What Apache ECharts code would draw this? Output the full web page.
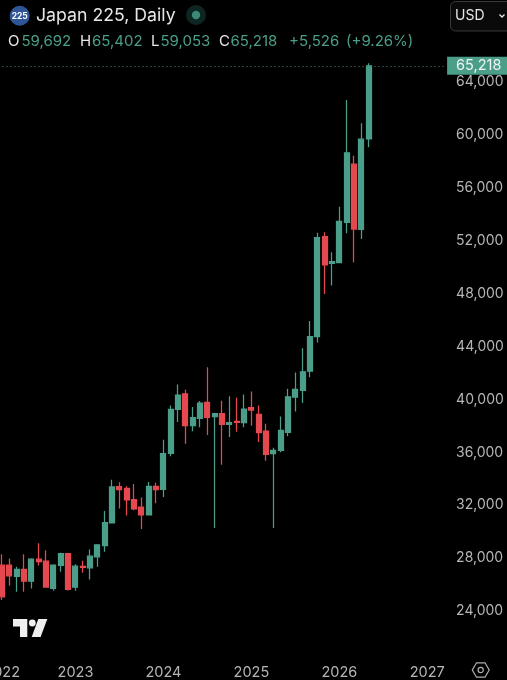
<!DOCTYPE html>
<html><head><meta charset="utf-8">
<style>html,body{margin:0;padding:0;background:#000}#c{width:507px;height:680px}</style>
<script src="https://cdn.jsdelivr.net/npm/echarts@6/dist/echarts.min.js"></script>
</head><body><div id="c"></div>
<script>
const categories = ["2022","2022-04","2022-05","2022-06","2022-07","2022-08","2022-09","2022-10","2022-11","2022-12",
"2023","2023-02","2023-03","2023-04","2023-05","2023-06","2023-07","2023-08","2023-09","2023-10","2023-11","2023-12",
"2024","2024-02","2024-03","2024-04","2024-05","2024-06","2024-07","2024-08","2024-09","2024-10","2024-11","2024-12",
"2025","2025-02","2025-03","2025-04","2025-05","2025-06","2025-07","2025-08","2025-09","2025-10","2025-11","2025-12",
"2026","2026-02","2026-03","2026-04","2026-05","2026-06","2026-07","2026-08","2026-09","2026-10","2026-11","2026-12",
"2027","2027-02","2027-03"];
const opens = [27471,27471,26616,27144,26264,27924,27773,25710,27446,28352,
25811,27371,27270,28100,28955,30666,33408,33282,32427,31849,31270,33433,
33207,35925,39245,40428,38012,38566,39773,38692,38918,38113,38340,38239,
39371,38868,37610,35899,36151,37509,40176,40679,42138,44754,52300,50288,
50338,53382,57785,52854,59692];
const closes = [25081,26666,27144,26264,27924,27748,25811,27471,28352,25635,
27396,27295,28150,29006,30691,33383,33182,32402,31723,31270,33433,33182,
35899,39245,40327,38012,38616,39723,38641,38918,38113,38239,38264,39270,
39195,37484,35849,36151,37660,40201,40755,42088,44754,52226,50162,50414,
53458,58640,52879,59672,65218];
const lows = [24830,25911,25459,25459,25710,27446,25760,25534,26968,25559,
25534,26893,26389,27345,28478,30666,31748,31220,31622,30213,31270,32150,
32629,35698,38289,36654,37585,37887,37308,30289,35069,37157,37560,37887,
38012,36780,35371,30289,36000,37207,39094,39723,41685,44302,47974,48603,
50338,52552,50364,52125,59053];
const highs = [28301,27974,27345,28301,27999,29132,28603,27547,28402,28377,
27547,27798,28654,29006,31572,33937,33735,33433,33610,32578,33760,33710,
36956,39547,41132,40729,39421,39874,42440,38994,39899,40231,40125,40375,
40605,39547,38163,36352,38717,40805,42038,43874,45937,52603,52628,51118,
54565,62640,58414,60879,65402];
const lastClose = 65218;
const titleText = "Japan 225, Daily";
const legendLabels = ["O","H","L","C"];
const legendValues = ["59,692","65,402","59,053","65,218","+5,526","(+9.26%)"];

const UP = "#4a9e8a", DOWN = "#e5484f", TXT = "#e6e6e6", AXIS = "#b6b6b6";
const FONT = "Inter, 'Noto Sans', sans-serif";
const candles = opens.map((o, i) => [o, closes[i], lows[i], highs[i]]);
const fmt = v => Number(v).toLocaleString("en-US");

const t = (text, x, y, fill, size, extra) => ({type:"text", x, y, style:Object.assign({text, fill, font:`${size}px ${FONT}`, textVerticalAlign:"middle", textAlign:"left"}, extra||{}), silent:true});
const legendX = [[8,21.5],[80,92],[151,160.5],[219,230.5]];
const legendItems = [];
legendLabels.forEach((l,i) => {
  legendItems.push(t(l, legendX[i][0], 41, TXT, 15));
  legendItems.push(t(legendValues[i], legendX[i][1], 41, UP, 15));
});
legendItems.push(t(legendValues[4], 289, 41, UP, 15));
legendItems.push(t(legendValues[5], 346, 41, UP, 15));

const chart = echarts.init(document.getElementById("c"), null, {renderer:"canvas"});
chart.setOption({
  backgroundColor:"#000",
  animation:false,
  grid:{left:-1.5, right:61.4, top:29, bottom:16, outerBoundsMode:"none", containLabel:false},
  xAxis:{type:"category", data:categories, boundaryGap:true,
    axisLine:{show:false}, axisTick:{show:false}, splitLine:{show:false},
    axisLabel:{interval:(i,v)=>/^\d{4}$/.test(v), color:AXIS, fontFamily:FONT, fontSize:14.5, margin:1, showMinLabel:true}},
  yAxis:{type:"value", position:"right", min:20000, max:68000, interval:4000, scale:false,
    axisLine:{show:false}, axisTick:{show:false}, splitLine:{show:false},
    axisLabel:{color:AXIS, fontFamily:FONT, fontSize:14, margin:10.5, showMinLabel:false, showMaxLabel:false, formatter:fmt}},
  series:[{type:"candlestick", data:candles, barWidth:5.5, clip:false,
    itemStyle:{color:UP, color0:DOWN, borderColor:UP, borderColor0:DOWN, borderColorDoji:UP, borderWidth:1.25},
    markLine:{silent:true, symbol:"none", animation:false,
      lineStyle:{type:[1,3], color:"#4f8577", width:1},
      label:{show:true, position:"end", distance:1.5, formatter:p=>fmt(p.value), color:"#f0f4f3", backgroundColor:UP,
        fontFamily:FONT, fontSize:14.5, padding:[2,4,2,9], width:47, height:14, align:"left", verticalAlign:"middle", lineHeight:14},
      data:[{yAxis:lastClose}]}}],
  graphic:{elements:[
    {type:"circle", shape:{cx:19.7,cy:15.7,r:10}, style:{fill:"#2f5596"}, silent:true},
    t("225",19.7,16,"#fff",8,{textAlign:"center",font:`bold 8.5px ${FONT}`}),
    t(titleText,36,16,TXT,17.7),
    {type:"circle", shape:{cx:196,cy:15,r:10}, style:{fill:"#0e2621"}, silent:true},
    {type:"circle", shape:{cx:196,cy:15,r:4.2}, style:{fill:"#3b8a75"}, silent:true},
    {type:"rect", shape:{x:450.5,y:1.5,width:70,height:29.5,r:5}, style:{fill:"#0a0a0a",stroke:"#3a3a3a",lineWidth:1}, silent:true},
    t("USD",455,16,TXT,14),
    {type:"polyline", shape:{points:[[499.5,14.5],[502,17],[504.5,14.5]]}, style:{stroke:TXT,lineWidth:1.3,fill:null}, silent:true},
    ...legendItems,
    {type:"polygon", shape:{points:[[13,619],[27.3,619],[27.3,637],[20,637],[20,626.5],[13,626.5]]}, style:{fill:"#efefef"}, silent:true},
    {type:"circle", shape:{cx:32.3,cy:623,r:3.4}, style:{fill:"#efefef"}, silent:true},
    {type:"polygon", shape:{points:[[38.3,619],[47.3,619],[40.6,637],[31.7,637]]}, style:{fill:"#efefef"}, silent:true},
    {type:"polygon", shape:{points:[[476.5,662.8],[485,662.8],[489.2,670],[485,677.2],[476.5,677.2],[472.3,670]]}, style:{fill:null,stroke:"#b0b0b0",lineWidth:1.2}, silent:true},
    {type:"circle", shape:{cx:480.7,cy:670,r:2.6}, style:{fill:null,stroke:"#b0b0b0",lineWidth:1.2}, silent:true}
  ]}
});
</script></body></html>
